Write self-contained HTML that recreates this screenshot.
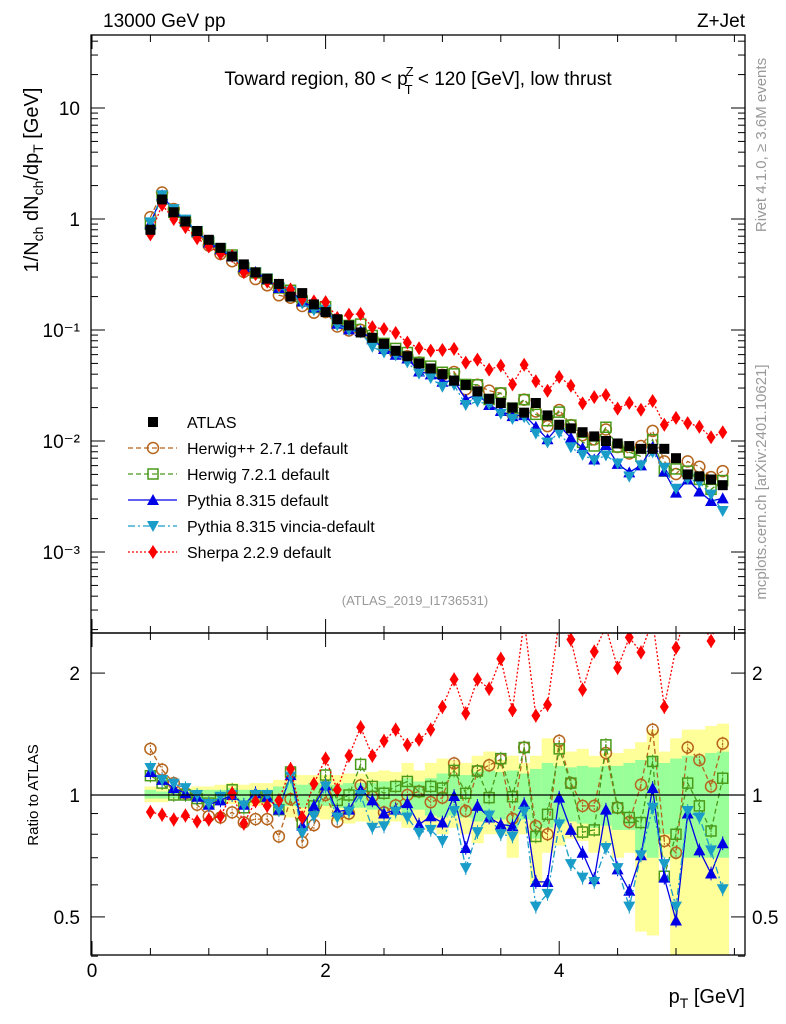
<!DOCTYPE html>
<html><head><meta charset="utf-8"><style>
body{margin:0;background:#fff;}
svg{display:block;font-family:"Liberation Sans",sans-serif;}
</style></head><body>
<svg id="c" width="786" height="1024" viewBox="0 0 786 1024" xmlns="http://www.w3.org/2000/svg">
<defs>
<clipPath id="cm"><rect x="91" y="35" width="654" height="598"/></clipPath>
<clipPath id="cr"><rect x="91" y="633" width="654" height="322"/></clipPath>
</defs>
<g id="bands" clip-path="url(#cr)"></g>
<g id="ratio" clip-path="url(#cr)"></g>
<g id="main" clip-path="url(#cm)"></g>
<g id="axes"></g>
<text x="103" y="27" font-size="19">13000 GeV pp</text>
<text x="745" y="27" font-size="19" text-anchor="end">Z+Jet</text>
<text x="418" y="85" font-size="19" text-anchor="middle">Toward region, 80 &lt; p<tspan font-size="13" dy="-9" dx="-2">Z</tspan><tspan font-size="13" dy="18" dx="-9">T</tspan><tspan dy="-9"> &lt; 120 [GeV], low thrust</tspan></text>
<text x="415" y="605" font-size="13" fill="#999" text-anchor="middle">(ATLAS_2019_I1736531)</text>
<text transform="translate(38,180) rotate(-90)" font-size="20" text-anchor="middle">1/N<tspan font-size="14" dy="5">ch</tspan><tspan dy="-5"> dN</tspan><tspan font-size="14" dy="5">ch</tspan><tspan dy="-5">/dp</tspan><tspan font-size="14" dy="5">T</tspan><tspan dy="-5"> [GeV]</tspan></text>
<text transform="translate(38,795) rotate(-90)" font-size="15" text-anchor="middle">Ratio to ATLAS</text>
<text transform="translate(766,145) rotate(-90)" font-size="15" fill="#999" text-anchor="middle">Rivet 4.1.0, ≥ 3.6M events</text>
<text transform="translate(766,482) rotate(-90)" font-size="15" fill="#999" text-anchor="middle">mcplots.cern.ch [arXiv:2401.10621]</text>
<text x="745" y="1003" font-size="20" text-anchor="end">p<tspan font-size="14" dy="5">T</tspan><tspan dy="-5"> [GeV]</tspan></text>
<g id="legend"></g>
</svg>
<script>
const pt=[0.5,0.6,0.7,0.8,0.9,1.0,1.1,1.2,1.3,1.4,1.5,1.6,1.7,1.8,1.9,2.0,2.1,2.2,2.3,2.4,2.5,2.6,2.7,2.8,2.9,3.0,3.1,3.2,3.3,3.4,3.5,3.6,3.7,3.8,3.9,4.0,4.1,4.2,4.3,4.4,4.5,4.6,4.7,4.8,4.9,5.0,5.1,5.2,5.3,5.4];
const atlas=[0.8,1.5,1.15,0.95,0.78,0.65,0.55,0.46,0.39,0.33,0.29,0.26,0.2,0.215,0.17,0.145,0.125,0.11,0.095,0.085,0.075,0.065,0.058,0.05,0.045,0.04,0.035,0.032,0.028,0.024,0.022,0.02,0.018,0.022,0.017,0.014,0.013,0.012,0.011,0.01,0.0095,0.009,0.0085,0.0085,0.0085,0.007,0.005,0.0048,0.0045,0.004];
const rHerwigPP=[1.30,1.155,1.07,1.01,0.946,0.886,0.88,0.906,0.856,0.872,0.872,0.79,0.977,0.765,0.843,1.0,0.86,0.90,1.056,0.99,0.906,0.943,1.0,1.02,0.96,0.985,1.197,0.913,1.146,1.184,1.225,0.874,1.31,0.838,0.8,1.36,1.07,0.94,0.94,1.27,0.93,0.858,1.06,1.45,0.77,0.72,1.31,1.22,1.05,1.34];
const rHerwig7=[1.116,1.07,1.0,1.0,0.98,0.955,0.98,1.03,0.93,0.99,0.99,0.92,1.14,0.85,0.94,1.12,0.97,1.0,1.19,1.05,1.01,1.05,1.08,1.02,1.05,1.04,1.15,1.01,1.146,0.985,1.23,0.99,1.31,0.79,0.896,1.30,1.07,0.81,0.82,1.33,0.93,0.88,0.855,1.21,0.63,0.80,1.07,0.94,0.815,1.10];
const rPythia=[1.14,1.09,1.04,1.01,0.99,0.946,0.97,1.0,0.946,1.01,0.99,0.92,1.12,0.84,0.94,1.056,0.91,0.92,1.03,0.97,0.90,0.92,0.955,0.845,0.886,0.855,0.994,0.74,0.94,0.88,0.846,0.838,0.95,0.61,0.61,0.985,0.82,0.72,0.62,0.92,0.655,0.58,0.71,1.04,0.625,0.49,0.90,0.73,0.64,0.76];
const rVincia=[1.166,1.09,1.066,1.04,1.0,0.95,0.99,1.0,0.943,1.0,1.0,0.92,1.11,0.805,0.886,1.05,0.88,0.91,1.0,0.83,0.837,0.91,0.88,0.806,0.82,0.77,0.913,0.66,0.81,0.89,0.80,0.79,0.91,0.53,0.57,0.846,0.675,0.625,0.61,0.74,0.66,0.53,0.71,0.93,0.675,0.53,0.913,0.88,0.73,0.585];
const rSherpa=[0.908,0.894,0.87,0.89,0.86,0.87,0.886,1.01,0.85,0.965,0.94,0.97,1.16,0.88,1.066,1.23,1.03,1.25,1.47,1.25,1.36,1.45,1.33,1.37,1.45,1.65,1.93,1.59,1.93,1.83,2.17,1.62,2.7,1.57,1.67,2.7,2.42,1.82,2.26,2.6,2.06,2.45,2.25,2.7,1.65,2.31,2.9,2.8,2.40,3.0];
const yelHi=[1.05,1.04,1.04,1.04,1.05,1.05,1.06,1.07,1.06,1.07,1.07,1.09,1.13,1.12,1.12,1.12,1.12,1.13,1.13,1.14,1.15,1.14,1.2,1.15,1.2,1.23,1.22,1.2,1.25,1.28,1.22,1.25,1.2,1.25,1.38,1.33,1.28,1.3,1.25,1.27,1.27,1.30,1.35,1.45,1.28,1.38,1.45,1.45,1.48,1.50];
const yelLo=[0.96,0.96,0.97,0.97,0.96,0.96,0.95,0.95,0.94,0.94,0.94,0.91,0.88,0.86,0.88,0.87,0.86,0.85,0.86,0.85,0.84,0.86,0.83,0.85,0.82,0.80,0.83,0.80,0.76,0.80,0.80,0.70,0.80,0.60,0.72,0.75,0.78,0.77,0.72,0.75,0.70,0.72,0.46,0.45,0.70,0.40,0.38,0.38,0.38,0.38];
const grnHi=[1.03,1.02,1.02,1.02,1.03,1.03,1.03,1.04,1.03,1.03,1.03,1.05,1.07,1.06,1.07,1.06,1.06,1.07,1.07,1.07,1.08,1.08,1.1,1.08,1.1,1.13,1.13,1.12,1.14,1.15,1.14,1.15,1.13,1.16,1.2,1.18,1.17,1.18,1.17,1.18,1.18,1.2,1.22,1.25,1.2,1.23,1.25,1.25,1.27,1.28];
const grnLo=[0.98,0.98,0.98,0.98,0.98,0.98,0.97,0.97,0.97,0.97,0.97,0.95,0.94,0.93,0.94,0.94,0.93,0.93,0.93,0.92,0.92,0.93,0.9,0.92,0.89,0.88,0.89,0.88,0.86,0.87,0.87,0.83,0.87,0.78,0.83,0.85,0.86,0.85,0.83,0.84,0.82,0.82,0.72,0.7,0.8,0.7,0.7,0.7,0.7,0.7];
const yTicksMain=["10","1","10⁻¹","10⁻²","10⁻³"];
const xTickLabels=["0","2","4"];

const NS="http://www.w3.org/2000/svg";
const X=v=>92+116.8*v;
const YM=v=>219-111*Math.log10(v);
const YR=v=>795-405*Math.log10(v);
function el(tag,at,parent){const e=document.createElementNS(NS,tag);for(const k in at)e.setAttribute(k,at[k]);parent.appendChild(e);return e;}
const $=id=>document.getElementById(id);

const bw=116.8*0.1/2;
pt.forEach((p,i)=>{
  const r1=el('rect',{x:X(p)-bw,y:YR(yelHi[i]),width:2*bw+0.5,height:YR(yelLo[i])-YR(yelHi[i]),fill:'#ffff99'},$('bands'));
  
  
  const r2=el('rect',{x:X(p)-bw,y:YR(grnHi[i]),width:2*bw+0.5,height:YR(grnLo[i])-YR(grnHi[i]),fill:'#99ff99'},$('bands'));
  
  
});

function marker(g,type,x,y,col){
  let e;
  if(type==='sq')e=el('rect',{x:x-5,y:y-5,width:10,height:10,fill:'#000'},g);
  else if(type==='circ')e=el('circle',{cx:x,cy:y,r:5.5,fill:'none',stroke:col,'stroke-width':1.5},g);
  else if(type==='osq')e=el('rect',{x:x-5,y:y-5,width:10,height:10,fill:'none',stroke:col,'stroke-width':1.5},g);
  else if(type==='up')e=el('path',{d:`M${x} ${y-6}L${x+6} ${y+5}L${x-6} ${y+5}Z`,fill:col},g);
  else if(type==='dn')e=el('path',{d:`M${x} ${y+6}L${x+6} ${y-5}L${x-6} ${y-5}Z`,fill:col},g);
  else e=el('path',{d:`M${x} ${y-7}L${x+4.5} ${y}L${x} ${y+7}L${x-4.5} ${y}Z`,fill:col},g);
  return e;
}
const series=[
 {name:'herwigpp',r:rHerwigPP,col:'#b5651d',m:'circ',dash:'5,3'},
 {name:'herwig7',r:rHerwig7,col:'#4a9a1a',m:'osq',dash:'5,3'},
 {name:'pythia',r:rPythia,col:'#0000e6',m:'up',dash:''},
 {name:'vincia',r:rVincia,col:'#1a9cc8',m:'dn',dash:'7,3,2,3'},
 {name:'sherpa',r:rSherpa,col:'#ff0000',m:'dia',dash:'2,2'}
];
series.forEach(s=>{
  const g=el('g',{},$('main'));
  
  
  const d=pt.map((p,i)=>(i?'L':'M')+X(p).toFixed(1)+' '+YM(atlas[i]*s.r[i]).toFixed(1)).join('');
  el('path',{d:d,fill:'none',stroke:s.col,'stroke-width':1.3,'stroke-dasharray':s.dash},g);
  pt.forEach((p,i)=>{const m=marker(g,s.m,X(p),YM(atlas[i]*s.r[i]),s.col);
    
    });
  const g2=el('g',{},$('ratio'));
  
  
  const d2=pt.map((p,i)=>(i?'L':'M')+X(p).toFixed(1)+' '+YR(s.r[i]).toFixed(1)).join('');
  el('path',{d:d2,fill:'none',stroke:s.col,'stroke-width':1.3,'stroke-dasharray':s.dash},g2);
  pt.forEach((p,i)=>{
    el('line',{x1:X(p),x2:X(p),y1:YR(s.r[i]*1.04),y2:YR(s.r[i]/1.04),stroke:s.col,'stroke-width':1,'stroke-dasharray':s.dash?'2,1':''},g2);
    const m=marker(g2,s.m,X(p),YR(s.r[i]),s.col);
    
    });
});
pt.forEach((p,i)=>{const m=marker($('main'),'sq',X(p),YM(atlas[i]),'#000');
  
  });
el('line',{x1:91,x2:745,y1:YR(1),y2:YR(1),stroke:'#000','stroke-width':1.3},$('ratio'));

const ax=$('axes');
el('rect',{x:91,y:35,width:654,height:598,fill:'none',stroke:'#000','stroke-width':1.3},ax);
el('rect',{x:91,y:633,width:654,height:322,fill:'none',stroke:'#000','stroke-width':1.3},ax);
function tick(x1,y1,x2,y2){el('line',{x1,y1,x2,y2,stroke:'#000','stroke-width':1},ax);}
for(let v=0;v<=5.5;v+=0.5){const x=X(v);const L=(Math.abs(v%2)<1e-6)?14:7;
  tick(x,35,x,35+L);tick(x,633,x,633-L);tick(x,633,x,633+L);tick(x,955,x,955-L);}
xTickLabels.forEach((t,i)=>{const tx=el('text',{x:X(2*i),y:977,'font-size':19,'text-anchor':'middle'},ax);tx.textContent=t;
  });
for(let e=-4;e<=1;e++){for(let k=1;k<10;k++){const v=k*Math.pow(10,e);const y=YM(v);if(y<35||y>633)continue;
  const L=k===1?14:7;tick(91,y,91+L,y);tick(745,y,745-L,y);}}
yTicksMain.forEach((t,i)=>{const tx=el('text',{x:80,y:YM(Math.pow(10,1-i))+7,'font-size':19,'text-anchor':'end'},ax);
  tx.textContent=t;});
[0.4,0.5,0.6,0.7,0.8,0.9,1,2].forEach(v=>{const y=YR(v);const L=(v===0.5||v===1||v===2)?14:7;tick(91,y,91+L,y);tick(745,y,745-L,y);});
[["0.5",0.5],["1",1],["2",2]].forEach(([t,v])=>{
  const a=el('text',{x:80,y:YR(v)+7,'font-size':19,'text-anchor':'end'},ax);a.textContent=t;
  
  const b=el('text',{x:752,y:YR(v)+7,'font-size':19},ax);b.textContent=t;
  });

const lg=$('legend');
const leg=[['ATLAS',null],['Herwig++ 2.7.1 default',series[0]],['Herwig 7.2.1 default',series[1]],['Pythia 8.315 default',series[2]],['Pythia 8.315 vincia-default',series[3]],['Sherpa 2.2.9 default',series[4]]];
leg.forEach(([t,s],i)=>{const y=422+26*i;
  const g=el('g',{},lg);
  
  
  if(s){el('line',{x1:128,x2:177,y1:y,y2:y,stroke:s.col,'stroke-width':1.3,'stroke-dasharray':s.dash},g);marker(g,s.m,153,y,s.col);}
  else marker(g,'sq',153,y,'#000');
  const tx=el('text',{x:187,y:y+6,'font-size':16},g);tx.textContent=t;});
</script>
</body></html>
